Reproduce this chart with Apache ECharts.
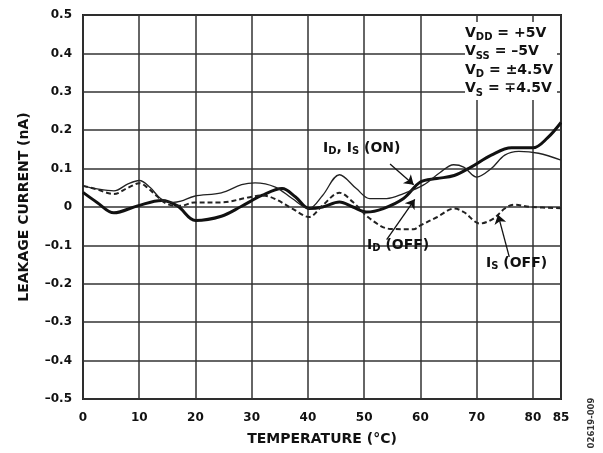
<!DOCTYPE html>
<html>
<head>
<meta charset="utf-8">
<script src="https://cdn.jsdelivr.net/npm/echarts@6/dist/echarts.min.js"></script>
<style>
  html, body { margin: 0; padding: 0; background: #fff; }
  #charts { width: 603px; height: 453px; }
</style>
</head>
<body>
<div id="charts"></div>
<script>
// 温度 (°C) / 漏电流 (nA)
const xTicks = [0, 10, 20, 30, 40, 50, 60, 70, 80, 85]

// ID, IS (ON) - 粗实线
const onTemps = [0, 2.5, 5.5, 9.7, 14, 16.8, 20, 24.6, 28.2, 31.8, 35.4, 37.8, 40.2, 42.6, 45.6, 48, 50.4, 53.4, 57, 60, 62.9, 66, 69, 72.6, 76.2, 80, 82.6, 85]
const onValues = [0.038, 0.012, -0.015, 0.003, 0.017, 0.003, -0.035, -0.024, 0.002, 0.03, 0.048, 0.026, -0.004, 0, 0.013, 0, -0.013, -0.004, 0.022, 0.065, 0.074, 0.082, 0.104, 0.135, 0.154, 0.154, 0.18, 0.22]

// ID (OFF) - 细实线
const idOffTemps = [0, 2.5, 5.5, 8, 10, 12, 13.8, 16, 17.4, 19.8, 24.6, 28.2, 30.6, 34.2, 37.2, 40.2, 42.6, 45.6, 48.6, 51, 54, 57, 60.5, 63.5, 65.9, 67.7, 70, 72.6, 75, 77.5, 81, 85]
const idOffValues = [0.055, 0.047, 0.042, 0.06, 0.069, 0.05, 0.022, 0.012, 0.015, 0.028, 0.037, 0.058, 0.063, 0.052, 0.022, -0.004, 0.03, 0.084, 0.048, 0.022, 0.022, 0.035, 0.057, 0.09, 0.11, 0.104, 0.078, 0.1, 0.135, 0.145, 0.14, 0.122]

// IS (OFF) - 虚线
const isOffTemps = [0, 2.2, 5.5, 8, 10, 11.5, 13, 15.1, 17.4, 19.8, 24.6, 29.4, 31.8, 34, 37.2, 40.2, 42.6, 45.6, 48, 51, 54.6, 58.8, 60, 63, 66, 67.7, 70.6, 73, 75, 76.6, 79.6, 85]
const isOffValues = [0.055, 0.047, 0.034, 0.05, 0.062, 0.05, 0.03, 0.007, 0.003, 0.012, 0.012, 0.025, 0.03, 0.022, -0.004, -0.026, 0.004, 0.037, 0.013, -0.03, -0.057, -0.058, -0.048, -0.026, -0.004, -0.013, -0.043, -0.03, -0.004, 0.006, 0, -0.003]

// 箭头 [起点, 终点] (数据坐标)
const arrowOn = [[54.6, 0.112], [58.8, 0.058]]
const arrowIdOff = [[54.0, -0.085], [59.0, 0.02]]
const arrowIsOff = [[75.8, -0.13], [73.8, -0.02]]

const FONT = 'DejaVu Sans'

const pairs = (xs, ys) => xs.map((x, i) => [x, ys[i]])

const myChart = echarts.init(document.getElementById('charts'), null, { renderer: 'canvas' })

const lineBase = {
  type: 'line',
  smooth: 0.35,
  symbol: 'none',
  z: 3
}

const labelText = {
  fontFamily: FONT,
  fontWeight: 'bold',
  fontSize: 14,
  fill: '#111'
}
const richSub = {
  sub: { fontFamily: FONT, fontWeight: 'bold', fontSize: 10, color: '#111', verticalAlign: 'bottom', padding: [6, 0, 0, 0] },
  n: { fontFamily: FONT, fontWeight: 'bold', fontSize: 14, color: '#111' }
}

const option = {
  animation: false,
  backgroundColor: '#fff',
  grid: {
    left: 83,
    right: 42,
    top: 15,
    bottom: 54,
    show: true,
    borderColor: '#222',
    borderWidth: 2,
    backgroundColor: 'transparent'
  },
  xAxis: {
    type: 'value',
    min: 0,
    max: 85,
    interval: 10,
    name: 'TEMPERATURE (°C)',
    nameLocation: 'middle',
    nameGap: 33,
    nameTextStyle: { fontFamily: FONT, fontWeight: 'bold', fontSize: 14, color: '#111' },
    axisLine: { show: false },
    axisTick: { show: false },
    axisLabel: {
      customValues: xTicks,
      margin: 13,
      fontFamily: FONT,
      fontWeight: 'bold',
      fontSize: 12,
      color: '#111'
    },
    splitLine: { show: true, lineStyle: { color: '#333', width: 1.5 } }
  },
  yAxis: {
    type: 'value',
    min: -0.5,
    max: 0.5,
    interval: 0.1,
    name: 'LEAKAGE CURRENT (nA)',
    nameLocation: 'middle',
    nameGap: 52,
    nameTextStyle: { fontFamily: FONT, fontWeight: 'bold', fontSize: 14, color: '#111' },
    axisLine: { show: false },
    axisTick: { show: false },
    axisLabel: {
      margin: 11,
      fontFamily: FONT,
      fontWeight: 'bold',
      fontSize: 12,
      color: '#111',
      formatter: (v) => {
        const r = Math.round(v * 10) / 10
        if (r === 0) return '0'
        return (r < 0 ? '–' : '') + Math.abs(r).toFixed(1)
      }
    },
    splitLine: { show: true, lineStyle: { color: '#333', width: 1.5 } }
  },
  series: [
    {
      ...lineBase,
      name: 'ID, IS (ON)',
      data: pairs(onTemps, onValues),
      lineStyle: { color: '#111', width: 3 }
    },
    {
      ...lineBase,
      name: 'ID (OFF)',
      data: pairs(idOffTemps, idOffValues),
      lineStyle: { color: '#222', width: 1.3 }
    },
    {
      ...lineBase,
      name: 'IS (OFF)',
      data: pairs(isOffTemps, isOffValues),
      lineStyle: { color: '#222', width: 2, type: [5, 3] }
    },
    {
      type: 'lines',
      coordinateSystem: 'cartesian2d',
      symbol: ['none', 'arrow'],
      symbolSize: 9,
      z: 4,
      lineStyle: { color: '#111', width: 1.3, opacity: 1 },
      data: [
        { coords: arrowOn },
        { coords: arrowIdOff },
        { coords: arrowIsOff }
      ]
    }
  ],
  graphic: [
    // 条件框 (遮住网格线)
    { type: 'rect', left: 465, top: 22, shape: { width: 92, height: 78 }, style: { fill: '#fff' }, z: 50 },
    {
      type: 'text', right: 50, top: 24, z: 51,
      style: {
        text: 'V{sub|DD} = +5V\nV{sub|SS} = –5V\nV{sub|D} = ±4.5V\nV{sub|S} = ∓4.5V',
        align: 'right',
        lineHeight: 18.5,
        rich: richSub,
        ...labelText
      }
    },
    {
      type: 'text', left: 323, top: 141, z: 51,
      style: { text: 'I{sub|D}, I{sub|S} (ON)', rich: richSub, ...labelText }
    },
    {
      type: 'text', left: 367, top: 238, z: 51,
      style: { text: 'I{sub|D} (OFF)', rich: richSub, ...labelText }
    },
    {
      type: 'text', left: 486, top: 256, z: 51,
      style: { text: 'I{sub|S} (OFF)', rich: richSub, ...labelText }
    },
    {
      type: 'text', x: 592, y: 423, rotation: Math.PI / 2, z: 51,
      style: { text: '02619-009', fontFamily: FONT, fontWeight: 'bold', fontSize: 8.5, fill: '#333', align: 'center', verticalAlign: 'middle' }
    }
  ]
}

myChart.setOption(option)
</script>
</body>
</html>
